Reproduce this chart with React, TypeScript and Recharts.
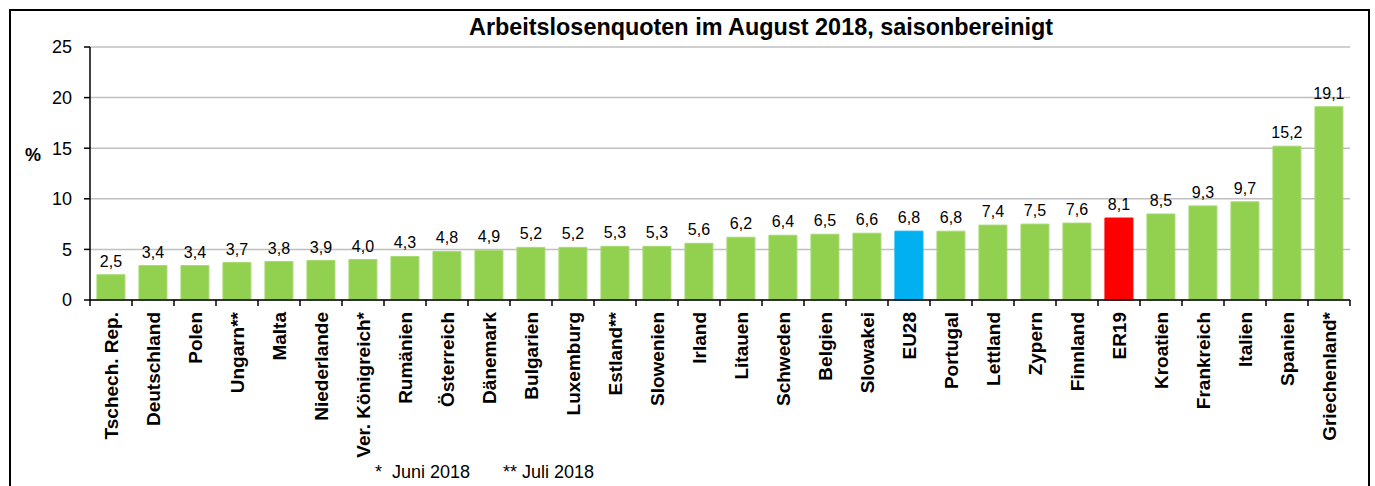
import React from 'react';
import { BarChart, Bar, XAxis, YAxis, CartesianGrid, Cell, LabelList } from 'recharts';

const countries = [
  'Tschech. Rep.', 'Deutschland', 'Polen', 'Ungarn**', 'Malta', 'Niederlande', 'Ver. Königreich*',
  'Rumänien', 'Österreich', 'Dänemark', 'Bulgarien', 'Luxemburg', 'Estland**', 'Slowenien', 'Irland',
  'Litauen', 'Schweden', 'Belgien', 'Slowakei', 'EU28', 'Portugal', 'Lettland', 'Zypern', 'Finnland',
  'ER19', 'Kroatien', 'Frankreich', 'Italien', 'Spanien', 'Griechenland*'
];
const rates = [
  2.5, 3.4, 3.4, 3.7, 3.8, 3.9, 4.0, 4.3, 4.8, 4.9, 5.2, 5.2, 5.3, 5.3, 5.6,
  6.2, 6.4, 6.5, 6.6, 6.8, 6.8, 7.4, 7.5, 7.6, 8.1, 8.5, 9.3, 9.7, 15.2, 19.1
];
const yTicks = [0, 5, 10, 15, 20, 25];

const GREEN = '#92D050';
const BLUE = '#00B0F0';
const RED = '#FF0000';
const FONT = 'Arial, "Liberation Sans", sans-serif';

const data = countries.map((name, i) => ({ name, value: rates[i] }));

const colorFor = (name: string) => (name === 'EU28' ? BLUE : name === 'ER19' ? RED : GREEN);

// plot area geometry
const PLOT_LEFT = 90;
const PLOT_RIGHT = 1350;
const BAND = (PLOT_RIGHT - PLOT_LEFT) / countries.length;

// Excel-style: tick marks between categories, vertical bold labels
const CountryTick = (props: any) => {
  const { x, y, payload, index } = props;
  const top = y - 8; // axis line position
  return (
    <g>
      <line x1={x - BAND / 2} y1={top} x2={x - BAND / 2} y2={top + 6} stroke="#000" strokeWidth={1.5} />
      {index === countries.length - 1 && (
        <line x1={x + BAND / 2} y1={top} x2={x + BAND / 2} y2={top + 6} stroke="#000" strokeWidth={1.5} />
      )}
      <text
        transform={`translate(${x},${top + 12}) rotate(-90)`}
        textAnchor="end"
        dy="0.36em"
        fontFamily={FONT}
        fontSize={19}
        fontWeight="bold"
        fill="#000"
      >
        {payload.value}
      </text>
    </g>
  );
};

export default function App() {
  return (
    <div style={{ position: 'absolute', left: 0, top: 0, width: 1375, height: 486, background: '#fff', overflow: 'hidden' }}>
      <div
        style={{
          position: 'absolute',
          left: 9,
          top: 9,
          width: 1361,
          height: 520,
          border: '2px solid #000',
          boxSizing: 'border-box'
        }}
      />
      <div
        style={{
          position: 'absolute',
          left: 469,
          top: 14,
          fontFamily: FONT,
          fontSize: 23.4,
          fontWeight: 'bold',
          color: '#000',
          whiteSpace: 'nowrap'
        }}
      >
        Arbeitslosenquoten im August 2018, saisonbereinigt
      </div>
      <div style={{ position: 'absolute', left: 25, top: 145, fontFamily: FONT, fontSize: 18, fontWeight: 'bold' }}>%</div>
      <div style={{ position: 'absolute', left: 375, top: 462, fontFamily: FONT, fontSize: 18, whiteSpace: 'pre' }}>
        {'*  Juni 2018'}
      </div>
      <div style={{ position: 'absolute', left: 503, top: 462, fontFamily: FONT, fontSize: 18, whiteSpace: 'pre' }}>
        {'** Juli 2018'}
      </div>
      <div style={{ position: 'absolute', left: 0, top: 0 }}>
        <BarChart
          width={1375}
          height={486}
          data={data}
          margin={{ top: 47, right: 1375 - PLOT_RIGHT, left: 0, bottom: 16 }}
          barCategoryGap="16.5%"
        >
          <CartesianGrid vertical={false} stroke="#BFBFBF" strokeWidth={1.5} />
          <XAxis
            dataKey="name"
            interval={0}
            height={170}
            axisLine={{ stroke: '#000', strokeWidth: 1.5 }}
            tickLine={false}
            tick={<CountryTick />}
          />
          <YAxis
            width={PLOT_LEFT}
            domain={[0, 25]}
            ticks={yTicks}
            interval={0}
            axisLine={{ stroke: '#000', strokeWidth: 1.5 }}
            tickLine={{ stroke: '#000', strokeWidth: 1.5 }}
            tickSize={6}
            tickMargin={12}
            tick={{ fontFamily: FONT, fontSize: 18, fill: '#000' }}
          />
          <Bar dataKey="value" isAnimationActive={false} stroke="#A6DA72" strokeWidth={1}>
            {data.map((d) => (
              <Cell key={d.name} fill={colorFor(d.name)} stroke={d.name === 'EU28' || d.name === 'ER19' ? colorFor(d.name) : '#A6DA72'} />
            ))}
            <LabelList
              dataKey="value"
              position="top"
              offset={8}
              fill="#000"
              stroke="none"
              fontFamily={FONT}
              fontSize={16}
              formatter={(v: any) => Number(v).toFixed(1).replace('.', ',')}
            />
          </Bar>
        </BarChart>
      </div>
    </div>
  );
}
